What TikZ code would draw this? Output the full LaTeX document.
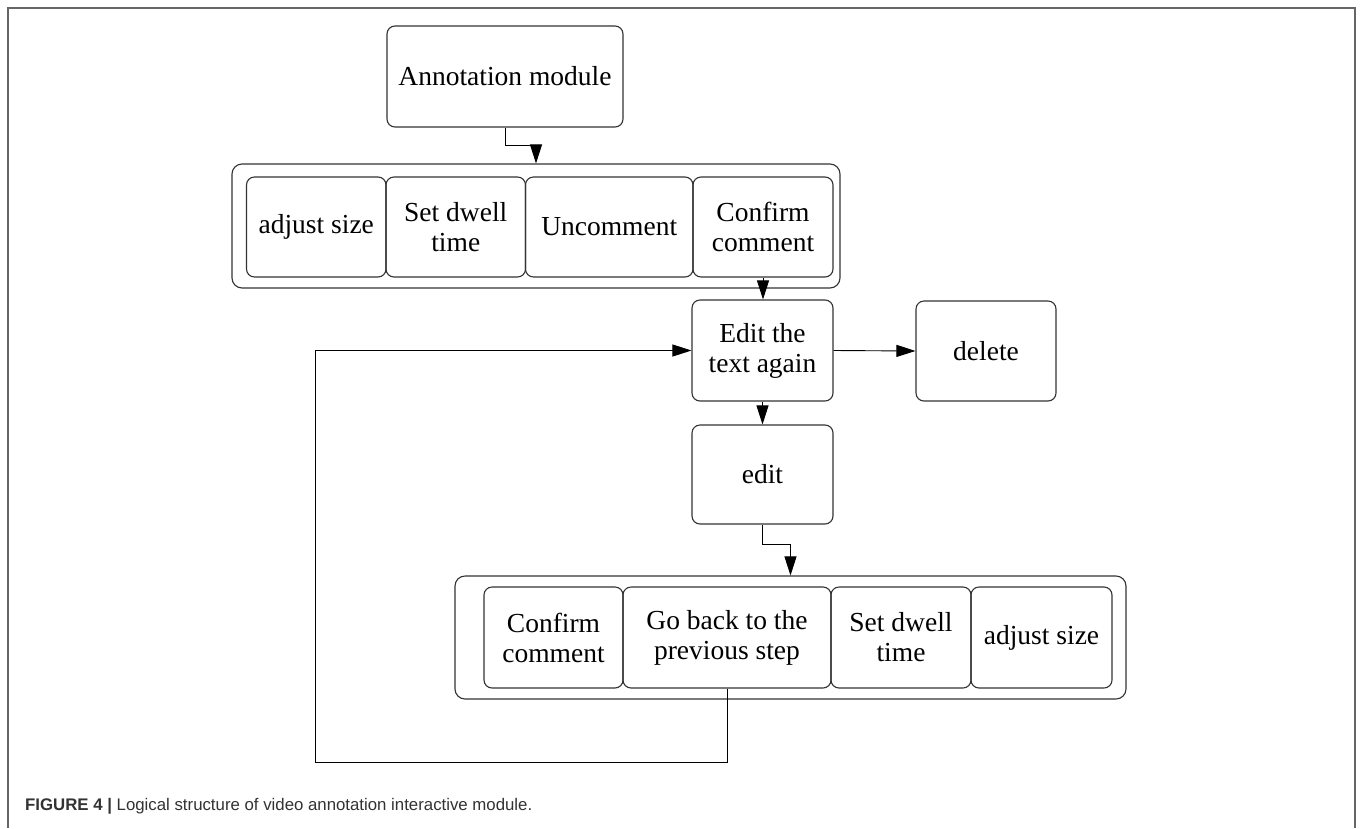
\documentclass[tikz,border=0pt]{standalone}
\usepackage{fontspec}
\setmainfont{Liberation Serif}
\newfontfamily\capfont{Liberation Sans}
\usetikzlibrary{arrows.meta}
\definecolor{frameg}{HTML}{666666}
\definecolor{boxg}{HTML}{333333}
\definecolor{capg}{HTML}{333333}
\begin{document}
\begin{tikzpicture}[x=1pt,y=-1pt,
  box/.style={draw=boxg,line width=1.1pt,rounded corners=8pt,inner sep=0pt,align=center,
    font=\fontsize{27.5}{30}\selectfont},
  grp/.style={draw=boxg,line width=1.1pt,rounded corners=10pt,inner sep=0pt},
  arr/.style={draw=black,line width=0.9pt,-{Triangle[length=19pt,width=12pt]}},
  ln/.style={draw=black,line width=0.9pt}]
\useasboundingbox (0,0) rectangle (1360,828);
\fill[white] (0,0) rectangle (1360,828);
\draw[frameg,line width=1.6pt] (8,828) -- (8,8) -- (1355,8) -- (1355,828);

\node[box,minimum width=236pt,minimum height=101pt] (ann) at (505,76.5) {Annotation module};

\node[grp,minimum width=608pt,minimum height=124pt] (g1) at (536,226) {};
\node[box,minimum width=139.5pt,minimum height=100pt] (a1) at (316.25,227) {adjust size};
\node[box,minimum width=139.5pt,minimum height=100pt] (a2) at (455.75,227) {Set dwell\\time};
\node[box,minimum width=167.5pt,minimum height=100pt] (a3) at (609.25,227) {Uncomment};
\node[box,minimum width=140pt,minimum height=100pt] (a4) at (763,227) {Confirm\\comment};

\node[box,minimum width=141pt,minimum height=101pt] (again) at (762.5,350.5) {Edit the\\text again};
\node[box,minimum width=140pt,minimum height=100pt] (del) at (986,351) {delete};
\node[box,minimum width=141pt,minimum height=99pt] (editb) at (762.5,474.5) {edit};

\node[grp,minimum width=671pt,minimum height=123pt] (g2) at (790.5,637.5) {};
\node[box,minimum width=139pt,minimum height=101pt] (b1) at (553.5,637.5) {Confirm\\comment};
\node[box,minimum width=208pt,minimum height=101pt] (b2) at (727,637.5) {Go back to the\\previous step};
\node[box,minimum width=140pt,minimum height=101pt] (b3) at (901,637.5) {Set dwell\\time};
\node[box,minimum width=141pt,minimum height=101pt] (b4) at (1041.5,637.5) {adjust size};

\draw[arr] (ann.south) -- ++(0,18) -| (g1.north);
\draw[arr] (a4.south) -- (a4.south |- again.north);
\draw[arr] (again.east) -- (del.west);
\draw[arr] (again.south) -- (editb.north);
\draw[arr] (editb.south) -- ++(0,20) -| (g2.north);
\coordinate (lp) at (315,762);
\draw[arr] (b2.south) |- (lp) |- (again.west);

\node[anchor=base west,inner sep=0pt,text=capg,font=\capfont\fontsize{16.8}{20}\selectfont] (cap) at (25,810)
  {\textbf{FIGURE 4 |} Logical structure of video annotation interactive module.};
\end{tikzpicture}
\end{document}
